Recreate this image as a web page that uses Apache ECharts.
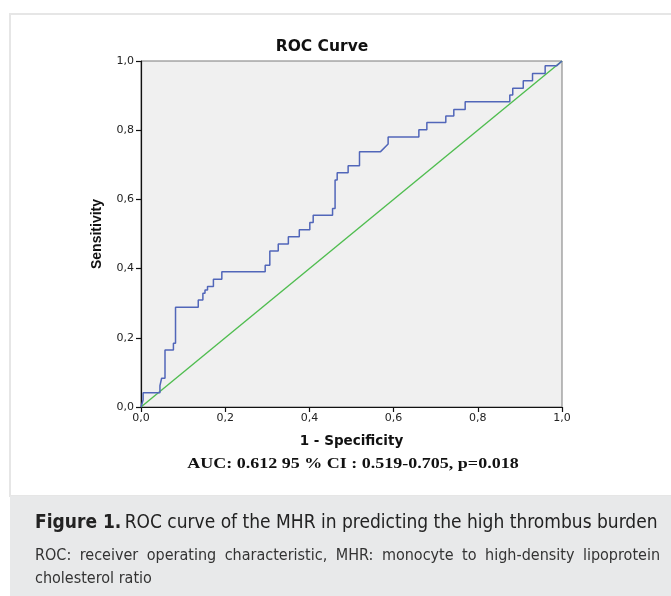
<!DOCTYPE html>
<html>
<head>
<meta charset="utf-8">
<script src="https://cdn.jsdelivr.net/npm/echarts@6/dist/echarts.min.js"></script>
<style>
html,body{margin:0;padding:0;background:#fff;}
#c{width:671px;height:596px;}
</style>
</head>
<body>
<div id="c"></div>
<script>
// 1 - Specificity (false positive rate) of each ROC step vertex
const fpr = [0,0.005,0.005,0.045,0.045,0.049,0.049,0.057,0.057,0.077,0.077,0.082,0.082,0.136,0.136,0.147,0.147,0.152,0.152,0.158,0.158,0.172,0.172,0.192,0.192,0.295,0.295,0.306,0.306,0.326,0.326,0.350,0.350,0.376,0.376,0.401,0.401,0.409,0.409,0.455,0.455,0.461,0.461,0.466,0.466,0.492,0.492,0.519,0.519,0.569,0.587,0.587,0.660,0.660,0.679,0.679,0.724,0.724,0.743,0.743,0.770,0.770,0.876,0.876,0.883,0.883,0.908,0.908,0.930,0.930,0.960,0.960,0.987,1];
// Sensitivity of each ROC step vertex
const tpr = [0,0.020,0.041,0.041,0.062,0.062,0.083,0.083,0.165,0.165,0.184,0.184,0.288,0.288,0.309,0.309,0.329,0.329,0.338,0.338,0.348,0.348,0.369,0.369,0.391,0.391,0.410,0.410,0.451,0.451,0.471,0.471,0.492,0.492,0.512,0.512,0.533,0.533,0.554,0.554,0.574,0.574,0.656,0.656,0.677,0.677,0.697,0.697,0.738,0.738,0.760,0.780,0.780,0.801,0.801,0.822,0.822,0.841,0.841,0.860,0.860,0.882,0.882,0.902,0.902,0.921,0.921,0.943,0.943,0.964,0.964,0.986,0.986,1];
// Reference line
const refX = [0,1];
const refY = [0,1];

const titleText = 'ROC Curve';
const aucText = 'AUC: 0.612 95 % CI : 0.519-0.705, p=0.018';
const captionBold = 'Figure 1.';
const captionMain = 'ROC curve of the MHR in predicting the high thrombus burden';
const noteLine1 = 'ROC: receiver operating characteristic, MHR: monocyte to high-density lipoprotein';
const noteLine2 = 'cholesterol ratio';

const chart = echarts.init(document.getElementById('c'), null, {renderer:'canvas'});
const fmt = v => v.toFixed(1).replace('.', ',');
const captionFont = '"Liberation Sans Narrow","DejaVu Sans Condensed","Open Sans",sans-serif';
const noteFont = '16px ' + captionFont;

// justify note line 1 across 35..660
const mctx = document.createElement('canvas').getContext('2d');
mctx.font = noteFont;
const words = noteLine1.split(' ');
const widths = words.map(w => mctx.measureText(w).width);
const totalW = widths.reduce((a,b)=>a+b,0);
const gap = (625 - totalW) / (words.length - 1);
let cx = 35;
const wordGraphics = words.map((w,i) => {
  const g = {type:'text', x:cx, y:556, style:{text:w, font:noteFont, fill:'#333', verticalAlign:'middle'}};
  cx += widths[i] + gap;
  return g;
});

const axisFont = '"DejaVu Sans", sans-serif';

chart.setOption({
  animation:false,
  backgroundColor:'#ffffff',
  grid:{left:141, top:61, width:421, height:346, show:true, backgroundColor:'#f0f0f0', borderColor:'#7a7a7a', borderWidth:1},
  xAxis:{type:'value', min:0, max:1, interval:0.2,
    name:'1 - Specificity', nameLocation:'middle', nameGap:27,
    nameTextStyle:{fontFamily:axisFont, fontWeight:'bold', fontSize:13.5, color:'#111'},
    axisLine:{show:true, onZero:false, lineStyle:{color:'#111', width:1.2}},
    axisTick:{show:true, length:5, lineStyle:{color:'#111', width:1.2}},
    axisLabel:{formatter:fmt, fontFamily:axisFont, fontSize:11, color:'#222', margin:6},
    splitLine:{show:false}},
  yAxis:{type:'value', min:0, max:1, interval:0.2,
    name:'Sensitivity', nameLocation:'middle', nameGap:37, nameRotate:90,
    nameTextStyle:{fontFamily:'"Liberation Sans", Arial', fontWeight:'bold', fontSize:14, color:'#111'},
    axisLine:{show:true, onZero:false, lineStyle:{color:'#111', width:1.2}},
    axisTick:{show:true, length:5, lineStyle:{color:'#111', width:1.2}},
    axisLabel:{formatter:fmt, fontFamily:axisFont, fontSize:11, color:'#222', margin:7},
    splitLine:{show:false}},
  series:[
    {type:'line', data:refX.map((x,i)=>[x,refY[i]]), symbol:'none', lineStyle:{color:'#4fbd4f', width:1.4}, z:2},
    {type:'line', data:fpr.map((x,i)=>[x,tpr[i]]), symbol:'none', lineStyle:{color:'#5166b9', width:1.5}, z:3}
  ],
  graphic:[
    {type:'rect', z:-10, shape:{x:10, y:14, width:670, height:482}, style:{fill:'#ffffff', stroke:'#e6e6e6', lineWidth:2}},
    {type:'rect', z:-10, shape:{x:10, y:496, width:661, height:100}, style:{fill:'#e8e9ea'}},
    {type:'text', x:322, y:47, style:{text:titleText, font:'bold 15.5px "DejaVu Sans", sans-serif', fill:'#111', align:'center', verticalAlign:'middle'}},
    {type:'text', x:353, y:464, scaleX:1.2, style:{text:aucText, font:'bold 15px "Liberation Serif", "Times New Roman", serif', fill:'#111', align:'center', verticalAlign:'middle'}},
    {type:'text', x:35, y:523, style:{rich:{b:{font:'bold 19px '+captionFont, fill:'#222'}, n:{font:'19px '+captionFont, fill:'#222'}}, text:'{b|'+captionBold+'} {n|'+captionMain+'}', verticalAlign:'middle'}},
    ...wordGraphics,
    {type:'text', x:35, y:579, style:{text:noteLine2, font:noteFont, fill:'#333', verticalAlign:'middle'}}
  ]
});
</script>
</body>
</html>
